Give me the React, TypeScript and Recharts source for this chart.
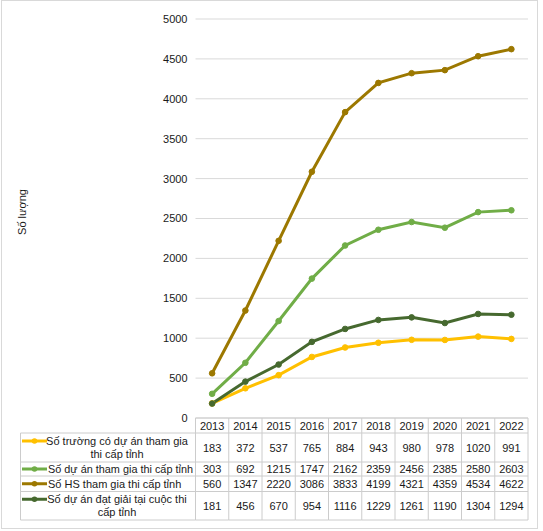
import React from 'react';
import { ComposedChart, Line, XAxis, YAxis, CartesianGrid } from 'recharts';

const years = ['2013', '2014', '2015', '2016', '2017', '2018', '2019', '2020', '2021', '2022'];
const truongValues = [183, 372, 537, 765, 884, 943, 980, 978, 1020, 991];
const duAnValues = [303, 692, 1215, 1747, 2162, 2359, 2456, 2385, 2580, 2603];
const hsValues = [560, 1347, 2220, 3086, 3833, 4199, 4321, 4359, 4534, 4622];
const datGiaiValues = [181, 456, 670, 954, 1116, 1229, 1261, 1190, 1304, 1294];
const yTicks = [0, 500, 1000, 1500, 2000, 2500, 3000, 3500, 4000, 4500, 5000];
const yAxisTitle = 'Số lượng';

const series = [
  { key: 'truong', lines: ['Số trường có dự án tham gia', 'thi cấp tỉnh'], color: '#FFC000', values: truongValues },
  { key: 'duAn', lines: ['Số dự án tham gia thi cấp tỉnh'], color: '#70AD47', values: duAnValues },
  { key: 'hs', lines: ['Số HS tham gia thi cấp tỉnh'], color: '#9C7800', values: hsValues },
  { key: 'datGiai', lines: ['Số dự án đạt giải tại cuộc thi', 'cấp tỉnh'], color: '#46692F', values: datGiaiValues },
];

const data = years.map((year, i) => {
  const row: Record<string, string | number> = { year };
  series.forEach((s) => {
    row[s.key] = s.values[i];
  });
  return row;
});

// layout constants
const W = 543;
const H = 531;
const PLOT_LEFT = 195.5;
const PLOT_RIGHT = 528;
const PLOT_TOP = 19;
const PLOT_BOTTOM = 418;
const COL_W = (PLOT_RIGHT - PLOT_LEFT) / years.length;
const TABLE_LEFT = 20.5;
const ROW_LINES = [418, 433, 462, 476, 491.5, 520];
const BORDER = '#cccccc';
const FONT = '"Liberation Sans", Arial, sans-serif';
const TEXT = '#1a1a1a';
const FS = 11;

const TableTick = (props: any) => {
  const { x, index } = props;
  const idx = typeof index === 'number' ? index : props.payload?.index ?? 0;
  const left = x - COL_W / 2;
  const right = x + COL_W / 2;
  const els: React.ReactNode[] = [];
  ROW_LINES.forEach((ly, k) => {
    els.push(<line key={'h' + k} x1={left} x2={right} y1={ly} y2={ly} stroke={BORDER} strokeWidth={1} />);
  });
  els.push(<line key="vr" x1={right} x2={right} y1={ROW_LINES[0]} y2={ROW_LINES[5]} stroke={BORDER} strokeWidth={1} />);
  if (idx === 0) {
    els.push(<line key="vl" x1={left} x2={left} y1={ROW_LINES[0]} y2={ROW_LINES[5]} stroke={BORDER} strokeWidth={1} />);
  }
  els.push(
    <text key="yr" x={x} y={(ROW_LINES[0] + ROW_LINES[1]) / 2} textAnchor="middle" dominantBaseline="central" fontSize={FS} fontFamily={FONT} fill={TEXT}>
      {years[idx]}
    </text>
  );
  series.forEach((s, r) => {
    const cy = (ROW_LINES[r + 1] + ROW_LINES[r + 2]) / 2;
    els.push(
      <text key={'v' + r} x={x} y={cy} textAnchor="middle" dominantBaseline="central" fontSize={FS} fontFamily={FONT} fill={TEXT}>
        {s.values[idx]}
      </text>
    );
  });
  if (idx === 0) {
    els.push(<line key="lvl" x1={TABLE_LEFT} x2={TABLE_LEFT} y1={ROW_LINES[1]} y2={ROW_LINES[5]} stroke={BORDER} strokeWidth={1} />);
    for (let k = 1; k < ROW_LINES.length; k++) {
      els.push(<line key={'lh' + k} x1={TABLE_LEFT} x2={left} y1={ROW_LINES[k]} y2={ROW_LINES[k]} stroke={BORDER} strokeWidth={1} />);
    }
    series.forEach((s, r) => {
      const top = ROW_LINES[r + 1];
      const bottom = ROW_LINES[r + 2];
      const cy = (top + bottom) / 2;
      const n = s.lines.length;
      const lh = 13;
      const firstY = cy - ((n - 1) * lh) / 2;
      els.push(<line key={'k' + r} x1={22} x2={47} y1={firstY} y2={firstY} stroke={s.color} strokeWidth={3} />);
      els.push(<circle key={'kc' + r} cx={34.5} cy={firstY} r={2.8} fill={s.color} />);
      s.lines.forEach((t, li) => {
        const ty = firstY + li * lh;
        els.push(
          <text
            key={'t' + r + li}
            x={n === 1 ? 48 : 117}
            y={ty}
            textAnchor={n === 1 ? 'start' : 'middle'}
            dominantBaseline="central"
            fontSize={FS}
            fontFamily={FONT}
            fill={TEXT}
            textLength={n === 1 && t.length > 28 ? 145 : undefined}
            lengthAdjust="spacingAndGlyphs"
          >
            {t}
          </text>
        );
      });
    });
  }
  return <g>{els}</g>;
};

const YTitle = () => (
  <text x={22} y={212} transform="rotate(-90 22 212)" textAnchor="middle" dominantBaseline="central" fontSize={FS} fontFamily={FONT} fill={TEXT}>
    {yAxisTitle}
  </text>
);

export default function App() {
  return (
    <div style={{ position: 'relative', width: W, height: H, background: '#fff' }}>
      <style>{'body{margin:0;background:#fff}'}</style>
      <div
        style={{
          position: 'absolute',
          left: 1,
          top: 0,
          width: 535,
          height: 527,
          border: '1px solid #d9d9d9',
          pointerEvents: 'none',
        }}
      />
      <ComposedChart
        width={W}
        height={H}
        data={data}
        margin={{ top: PLOT_TOP, right: W - PLOT_RIGHT, bottom: 0, left: 0 }}
        style={{ position: 'absolute', left: 0, top: 0 }}
      >
        <CartesianGrid vertical={false} stroke="#d9d9d9" strokeWidth={1} />
        <XAxis
          dataKey="year"
          interval={0}
          axisLine={false}
          tickLine={false}
          padding={{ left: COL_W / 2, right: COL_W / 2 }}
          height={H - PLOT_BOTTOM}
          tick={TableTick}
        />
        <YAxis
          width={PLOT_LEFT}
          domain={[0, 5000]}
          ticks={yTicks}
          axisLine={false}
          tickLine={false}
          tick={{ fontSize: FS, fontFamily: FONT, fill: TEXT }}
          label={{ value: yAxisTitle, content: () => <YTitle /> }}
        />
        {series.map((s) => (
          <Line
            key={s.key}
            type="linear"
            dataKey={s.key}
            stroke={s.color}
            strokeWidth={3}
            dot={{ r: 2.8, fill: s.color, stroke: s.color, strokeWidth: 1 }}
            activeDot={false}
            isAnimationActive={false}
          />
        ))}
      </ComposedChart>
    </div>
  );
}
